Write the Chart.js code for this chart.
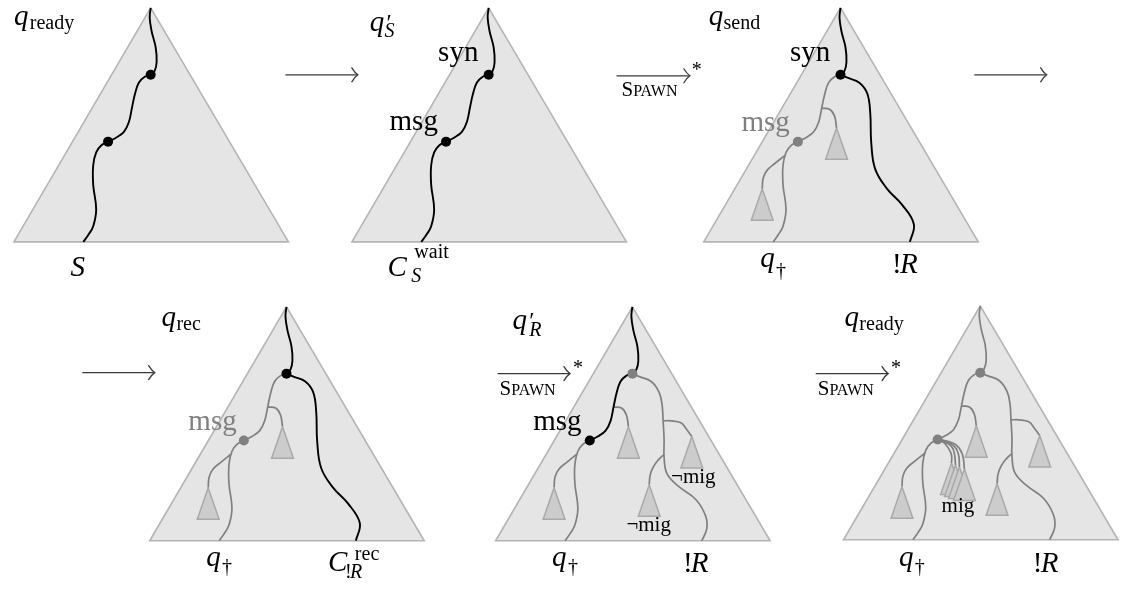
<!DOCTYPE html>
<html>
<head>
<meta charset="utf-8">
<script src="https://cdn.jsdelivr.net/npm/chart.js@4.4.1/dist/chart.umd.min.js"></script>
<style>
  html, body { margin: 0; background: #fff; }
  canvas { display: block; }
</style>
</head>
<body>
<canvas id="diagram" width="1126" height="590"></canvas>
<script>
const BLACK = '#000000';
const GREY = '#808080';

// apex of each of the six trees
const panelApex = [[147, 3], [488, 3], [843, 3], [284, 307], [633, 307], [984, 306]];

// outlines, relative to their own apex
const bigTree = [[0, 0], [-138, 238], [139, 238], [0, 0]];
const subTree = [[0, 0], [-11, 32], [11, 32], [0, 0]];

// branches, relative to the panel apex
const spine = [[0, 0], [-1, 10], [1, 24], [5, 40], [6, 55], [4, 64], [0, 68]];
const msgArc = [[0, 68], [-6, 70], [-12, 76], [-16, 88], [-19, 102], [-22, 116], [-27, 126], [-35, 132], [-43, 136]];
const tailLeft = [[-43, 136], [-50, 140], [-55, 147], [-58, 160], [-58, 180], [-55, 205], [-58, 222], [-63, 231], [-68, 238]];
const twigTop = [[-19, 102], [-11, 103], [-6, 110], [-4, 122]];
const twigLow = [[-56, 150], [-66, 158], [-74, 165], [-78, 173], [-79, 184]];
const rightArc = [[0, 68], [7, 71], [19, 76], [27, 87], [30, 107], [31, 137], [35, 164], [47, 184], [62, 200], [74, 220], [70, 238]];
const rightSplit = [[0, 68], [7, 71], [19, 76], [27, 87], [30, 100], [31, 116], [32, 135], [32, 153], [35, 170], [47, 183], [64, 196], [74, 213], [75, 226], [70, 238]];
const twigRight = [[31, 116], [39, 116], [49, 118], [55, 125], [60, 132]];
const twigRightLow = [[32, 150], [26, 156], [21, 163], [18, 171], [17, 181]];
const fanArcs = [
  [[-43, 136], [-37, 139], [-32, 145], [-29, 152], [-29, 160]],
  [[-43, 136], [-37, 138], [-29, 143], [-26, 151], [-25, 162]],
  [[-43, 136], [-36, 138], [-27, 142], [-22, 151], [-21, 164]],
  [[-43, 136], [-36, 137], [-25, 141], [-18, 151], [-16, 166]]
];
const fanTips = [[-29, 160], [-25, 162], [-21, 164], [-16, 166]];

// subtree apexes
const subA = [-4, 122], subB = [-79, 184], subC = [60, 132], subD = [17, 181];

// per panel: branches (grey first so black sits on top), subtrees, dots
const panelBranches = [
  [[spine, 'k'], [msgArc, 'k'], [tailLeft, 'k']],
  [[spine, 'k'], [msgArc, 'k'], [tailLeft, 'k']],
  [[msgArc, 'g'], [twigTop, 'g'], [tailLeft, 'g'], [twigLow, 'g'], [spine, 'k'], [rightArc, 'k']],
  [[msgArc, 'g'], [twigTop, 'g'], [tailLeft, 'g'], [twigLow, 'g'], [spine, 'k'], [rightArc, 'k']],
  [[twigTop, 'g'], [tailLeft, 'g'], [twigLow, 'g'], [rightSplit, 'g'], [twigRight, 'g'], [twigRightLow, 'g'], [spine, 'k'], [msgArc, 'k']],
  [[spine, 'g'], [msgArc, 'g'], [twigTop, 'g'], [tailLeft, 'g'], [twigLow, 'g'], [rightSplit, 'g'], [twigRight, 'g'], [twigRightLow, 'g']]
];
const panelSubtrees = [[], [], [subA, subB], [subA, subB], [subA, subB, subC, subD], [subA, subB, subC, subD]];
const panelDots = [
  [[0, 68, 'k'], [-43, 136, 'k']],
  [[0, 68, 'k'], [-43, 136, 'k']],
  [[0, 68, 'k'], [-43, 136, 'g']],
  [[0, 68, 'k'], [-43, 136, 'g']],
  [[0, 68, 'g'], [-43, 136, 'k']],
  [[0, 68, 'g'], [-43, 136, 'g']]
];

// arrows: [from x, to x, y]
const arrows = [[283, 355, 71], [617, 690, 72], [978, 1050, 71], [78, 150, 374], [497, 569, 375], [818, 890, 375]];
const starAt = [[693, 72], [573, 375], [894, 375]];
const spawnAt = [[622, 93], [499, 397], [820, 397]];

// labels: [text, x, baseline y, kind, colour]
const labels = [
  ['q', 9, 20, 'mi'], ['ready', 25, 24, 'sub'], ['S', 66, 276, 'mi'],
  ['q', 368, 26, 'mi'], ['\u2032', 385, 25, 'pr'], ['S', 383, 33, 'subi'],
  ['syn', 437, 57, 'rm'], ['msg', 388, 127, 'rm'],
  ['C', 386, 276, 'mi'], ['wait', 413, 257, 'sub'], ['S', 410, 282, 'subi'],
  ['q', 710, 20, 'mi'], ['send', 725, 24, 'sub'],
  ['syn', 792, 57, 'rm'], ['msg', 743, 128, 'rm', 'g'],
  ['q', 762, 267, 'mi'], ['\u2020', 778, 277, 'sub'],
  ['!', 895, 273, 'rm'], ['R', 903, 273, 'mi'],
  ['q', 158, 327, 'mi'], ['rec', 173, 331, 'sub'],
  ['msg', 185, 432, 'rm', 'g'],
  ['q', 203, 571, 'mi'], ['\u2020', 219, 578, 'sub'],
  ['C', 326, 576, 'mi'], ['rec', 353, 565, 'sub'], ['!', 343, 583, 'sub'], ['R', 348, 583, 'subi'],
  ['q', 512, 330, 'mi'], ['\u2032', 529, 329, 'pr'], ['R', 529, 337, 'subi'],
  ['msg', 533, 432, 'rm'],
  ['\u00acmig', 672, 486, 'note'], ['\u00acmig', 627, 535, 'note'],
  ['q', 552, 571, 'mi'], ['\u2020', 568, 578, 'sub'],
  ['!', 684, 577, 'rm'], ['R', 692, 577, 'mi'],
  ['q', 847, 327, 'mi'], ['ready', 862, 331, 'sub'],
  ['mig', 945, 516, 'note'],
  ['q', 902, 571, 'mi'], ['\u2020', 918, 578, 'sub'],
  ['!', 1037, 577, 'rm'], ['R', 1045, 577, 'mi']
];

const SERIF = '"Liberation Serif", "DejaVu Serif", serif';
const fonts = {
  mi: 'italic 29px ' + SERIF,
  rm: '29px ' + SERIF,
  pr: '24px ' + SERIF,
  sub: '20px ' + SERIF,
  subi: 'italic 20px ' + SERIF,
  note: '21px ' + SERIF
};
const colours = { k: BLACK, g: GREY };

const at = (apex, p) => ({ x: apex[0] + p[0], y: apex[1] + p[1] });

const layers = [];
function branch(apex, pts, c) {
  return { data: pts.map(p => at(apex, p)), borderColor: colours[c], borderWidth: c === 'k' ? 1.9 : 1.7, tension: 0.4 };
}
function subtree(apex, top) {
  return {
    data: subTree.map(p => at(apex, [top[0] + p[0], top[1] + p[1]])),
    fill: 'shape', backgroundColor: '#cccccc', borderColor: '#a9a9a9', borderWidth: 1.5, tension: 0
  };
}

panelApex.forEach((apex, i) => {
  layers.push({
    data: bigTree.map(p => at(apex, p)),
    fill: 'shape', backgroundColor: '#e5e5e5', borderColor: '#b4b4b4', borderWidth: 1.6, tension: 0
  });
  panelBranches[i].forEach(([pts, c]) => layers.push(branch(apex, pts, c)));
  panelSubtrees[i].forEach(top => layers.push(subtree(apex, top)));
  if (i === 5) {
    fanArcs.forEach((arc, k) => {
      layers.push(branch(apex, arc, 'g'));
      layers.push(subtree(apex, fanTips[k]));
    });
  }
});

arrows.forEach(([x0, x1, y]) => {
  layers.push({ data: [{ x: x0, y }, { x: x1, y }], borderColor: '#3a3a3a', borderWidth: 1.3, tension: 0 });
});

const dotPts = [], dotCols = [];
panelApex.forEach((apex, i) => {
  panelDots[i].forEach(([dx, dy, c]) => { dotPts.push(at(apex, [dx, dy])); dotCols.push(colours[c]); });
});
layers.push({ data: dotPts, showLine: false, pointRadius: 5, pointBackgroundColor: dotCols, pointBorderWidth: 0 });

const datasets = layers.map((d, i) => Object.assign(
  { showLine: true, pointRadius: 0, fill: false, borderJoinStyle: 'miter' },
  d,
  { order: layers.length - i }
));

const textPlugin = {
  id: 'diagramText',
  afterDatasetsDraw(chart) {
    const ctx = chart.ctx;
    const xs = chart.scales.x, ys = chart.scales.y;
    ctx.save();
    // arrow heads
    ctx.strokeStyle = '#3a3a3a';
    ctx.lineWidth = 1.3;
    ctx.lineCap = 'round';
    arrows.forEach(([x0, x1, y]) => {
      const tx = xs.getPixelForValue(x1), ty = ys.getPixelForValue(y);
      ctx.beginPath();
      ctx.moveTo(tx - 5, ty - 7);
      ctx.quadraticCurveTo(tx - 2, ty - 2, tx + 1, ty);
      ctx.quadraticCurveTo(tx - 2, ty + 2, tx - 5, ty + 7);
      ctx.stroke();
    });
    ctx.textBaseline = 'alphabetic';
    ctx.textAlign = 'left';
    labels.forEach(([t, x, y, kind, c]) => {
      ctx.font = fonts[kind];
      ctx.fillStyle = colours[c || 'k'];
      ctx.fillText(t, xs.getPixelForValue(x), ys.getPixelForValue(y));
    });
    ctx.fillStyle = BLACK;
    starAt.forEach(([x, y]) => {
      ctx.font = fonts.sub;
      ctx.fillText('*', xs.getPixelForValue(x), ys.getPixelForValue(y));
    });
    spawnAt.forEach(([x, y]) => {
      const px = xs.getPixelForValue(x), py = ys.getPixelForValue(y);
      ctx.font = '21px ' + SERIF;
      ctx.fillText('S', px, py);
      const w = ctx.measureText('S').width;
      ctx.font = '16px ' + SERIF;
      ctx.fillText('PAWN', px + w, py);
    });
    ctx.restore();
  }
};

new Chart(document.getElementById('diagram'), {
  type: 'scatter',
  data: { datasets },
  options: {
    responsive: false,
    animation: false,
    events: [],
    layout: { padding: 0 },
    scales: {
      x: { type: 'linear', min: 0, max: 1126, display: false },
      y: { type: 'linear', min: 0, max: 590, reverse: true, display: false }
    },
    plugins: { legend: { display: false }, tooltip: { enabled: false } }
  },
  plugins: [textPlugin]
});
</script>
</body>
</html>
